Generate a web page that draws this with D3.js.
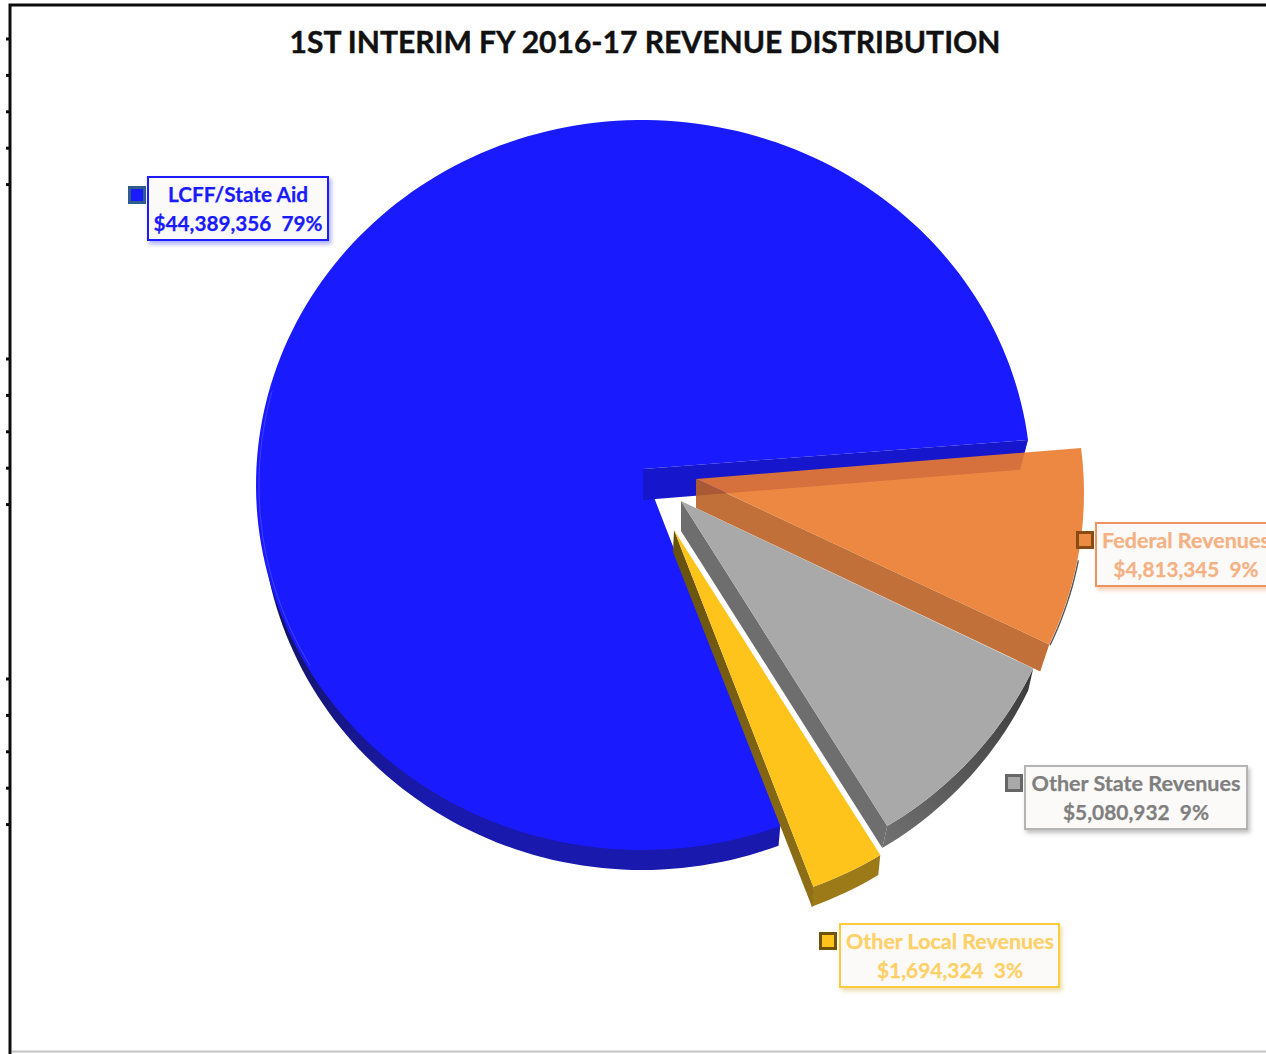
<!DOCTYPE html>
<html>
<head>
<meta charset="utf-8">
<script src="https://cdn.jsdelivr.net/npm/d3@7/dist/d3.min.js"></script>
<style>
html,body{margin:0;padding:0;background:#fff;overflow:hidden}
svg{display:block}
text{font-family:Lato,"Open Sans",sans-serif;font-weight:700}
</style>
</head>
<body>
<svg id="chart" width="1266" height="1054"></svg>
<script>
// Revenue figures
const title = "1ST INTERIM FY 2016-17 REVENUE DISTRIBUTION";
const categories = ["LCFF/State Aid", "Federal Revenues", "Other State Revenues", "Other Local Revenues"];
const revenues = [44389356, 4813345, 5080932, 1694324];

const W = 1266, H = 1054;
const svg = d3.select("#chart");
const defs = svg.append("defs");

// Tilted pie geometry: the disc is an ellipse, and its hub sits above the ellipse centre
const disc = {cx: 642, cy: 485, rx: 386, ry: 365};
const blueDisc = {...disc, rxRight: 389};
const base = {cx: 642, cy: 504, rx: 381, ry: 366};

// Slices run clockwise from the blue slice's lower edge
const pieStart = 158.5;
const pie = d3.pie().sort(null).value(d => d)
  .startAngle(pieStart * Math.PI / 180)
  .endAngle((pieStart + 360) * Math.PI / 180);
const arcs = pie(revenues);
const deg = r => r * 180 / Math.PI;

// Perspective foreshortens the sweep of the slices slightly
const sweep = d3.scaleLinear()
  .domain([pieStart, deg(arcs[0].endAngle), pieStart + 360])
  .range([159, 442.9, 519]);
const [blue, orange, gray, yellow] = arcs.map(d => ({from: sweep(deg(d.startAngle)), to: sweep(deg(d.endAngle))}));

const onEllipse = (e, a, shift = [0, 0]) => {
  const t = a * Math.PI / 180, s = Math.sin(t);
  const rx = s > 0 && e.rxRight ? e.rxRight : e.rx;
  return [e.cx + rx * s + shift[0], e.cy - e.ry * Math.cos(t) + shift[1]];
};
const rimPts = (e, a0, a1, shift) => {
  const n = Math.max(2, Math.ceil(Math.abs(a1 - a0) / 1.5));
  return d3.range(n + 1).map(i => onEllipse(e, a0 + (a1 - a0) * i / n, shift));
};
const line = d3.line();
const poly = pts => line(pts) + "Z";
const add = (g, d, fill, extra = {}) => {
  const p = g.append("path").attr("d", d).attr("fill", fill);
  Object.entries(extra).forEach(([k, v]) => p.attr(k, v));
  return p;
};
const gradient = (id, x1, y1, x2, y2, stops) => {
  const g = defs.append("linearGradient").attr("id", id)
    .attr("gradientUnits", "userSpaceOnUse")
    .attr("x1", x1).attr("y1", y1).attr("x2", x2).attr("y2", y2);
  stops.forEach(([o, c]) => g.append("stop").attr("offset", o).attr("stop-color", c));
};

// Frame with its stray tick marks on the left
const frame = svg.append("g");
frame.append("path").attr("d", `M10,${H}V5H${W}`).attr("fill", "none").attr("stroke", "#0c0c0c").attr("stroke-width", 3);
frame.append("path").attr("d", `M12,1051.5H${W}`).attr("stroke", "#c4c4c4").attr("stroke-width", 2);
[39, 359, 679].forEach(y0 => d3.range(5).forEach(i => {
  frame.append("rect").attr("x", 6).attr("y", y0 + i * 36.4 - 1.5).attr("width", 4).attr("height", 3).attr("fill", "#0c0c0c");
}));

svg.append("text").attr("x", 645).attr("y", 53).attr("text-anchor", "middle")
  .attr("font-size", 30).attr("textLength", 711).attr("lengthAdjust", "spacingAndGlyphs")
  .attr("fill", "#111").attr("stroke", "#111").attr("stroke-width", 0.4).text(title);

const pieG = svg.append("g");

// Pulled-out slices: hub position and disc offset
const hub = {blue: [643, 469], orange: [696, 479], gray: [681, 501], yellow: [674, 530]};
const pull = {orange: [56, 8], gray: [40, 32], yellow: [33, 61]};

// Blue slice
gradient("blueSide", 270, 620, 420, 800, [[0, "#141460"], [1, "#1919ad"]]);
add(pieG, poly([onEllipse(disc, blue.from), ...rimPts(base, blue.from, 270), [disc.cx, disc.cy]]), "url(#blueSide)");
add(pieG, poly([hub.blue, ...rimPts(blueDisc, blue.from, blue.to)]), "#1a1aff");
pieG.append("path").attr("d", line(rimPts({...disc, rx: 383, ry: 362}, 240, 285)))
  .attr("fill", "none").attr("stroke", "#4a4aff").attr("stroke-width", 1).attr("stroke-opacity", 0.8);

// Grey slice
gradient("graySide", 1030, 680, 880, 840, [[0, "#3c3c3c"], [1, "#707070"]]);
add(pieG, poly([...rimPts(disc, gray.from, gray.to, pull.gray), ...rimPts(disc, gray.to, gray.from, [pull.gray[0] - 5, pull.gray[1] + 22])]), "url(#graySide)");
{
  const end = onEllipse(disc, gray.to, pull.gray);
  add(pieG, poly([hub.gray, end, [end[0] - 5, end[1] + 22], [681, 531]]), "#6e6e6e");
  add(pieG, poly([hub.gray, ...rimPts(disc, gray.from, gray.to, pull.gray)]), "#a9a9a9");
}

// Yellow slice
gradient("yellowWall", 673, 530, 810, 900, [[0, "#65500f"], [1, "#8f7017"]]);
{
  const end = onEllipse(disc, yellow.to, pull.yellow);
  add(pieG, poly([...rimPts(disc, yellow.from, yellow.to, pull.yellow), ...rimPts(disc, yellow.to, yellow.from, [pull.yellow[0] - 2, pull.yellow[1] + 20])]), "#9c7a18");
  add(pieG, poly([hub.yellow, end, [end[0] - 1, end[1] + 21], [673, 552]]), "url(#yellowWall)");
  add(pieG, poly([hub.yellow, ...rimPts(disc, yellow.from, yellow.to, pull.yellow)]), "#ffc41c");
}

// Cut face of the blue slice, seen through the orange slice
{
  const tip = onEllipse(blueDisc, blue.to);
  add(pieG, poly([hub.blue, tip, [tip[0] - 8, tip[1] + 30], [643, 500]]), "#1616cc");
}

// Orange slice is slightly translucent; a thin dark rim shows along its lower edge
{
  const end = onEllipse(disc, orange.to, pull.orange);
  pieG.append("path").attr("d", line(rimPts(disc, orange.to - 14, orange.to, [pull.orange[0] + 0.8, pull.orange[1] + 0.8])))
    .attr("fill", "none").attr("stroke", "#555").attr("stroke-width", 1.4);
  add(pieG, poly([hub.orange, end, [end[0] - 9, end[1] + 27], [696, 508]]), "rgb(185,96,34)", {"fill-opacity": 0.9});
  add(pieG, poly([hub.orange, ...rimPts(disc, orange.from, orange.to, pull.orange)]), "rgb(235,123,47)", {"fill-opacity": 0.9});
}

// Callout boxes
const total = d3.sum(revenues);
const pct = d3.format(".0%");
const money = d3.format("$,");
const callouts = [
  {box: [148, 177, 180, 63], cx: 238, w: [140, 169], mark: [137, 195], text: "#1a1aff", border: "#1a1aff", mFill: "#1a1aff", mStroke: "#2f5c8f", shadow: "#1a1aff"},
  {box: [1096, 523, 200, 63], cx: 1186, w: [168, 145], mark: [1085, 540], text: "#f4b183", border: "#ee9462", mFill: "#ed8a44", mStroke: "#8a4a14", shadow: "#ed7d31"},
  {box: [1025, 766, 222, 63], cx: 1136, w: [209, 146], mark: [1014, 783], text: "#7f7f7f", border: "#b4b4b4", mFill: "#a9a9a9", mStroke: "#666", shadow: "#555"},
  {box: [840, 924, 219, 63], cx: 950, w: [208, 146], mark: [828, 941], text: "#ffd066", border: "#ffca3a", mFill: "#ffc41c", mStroke: "#6f5408", shadow: "#c9a227"}
];
callouts.forEach((c, i) => {
  const f = defs.append("filter").attr("id", "shadow" + i)
    .attr("x", "-10%").attr("y", "-20%").attr("width", "125%").attr("height", "150%");
  f.append("feDropShadow").attr("dx", 2).attr("dy", 3).attr("stdDeviation", 2.2)
    .attr("flood-color", c.shadow).attr("flood-opacity", 0.38);
  const g = svg.append("g");
  g.append("rect").attr("x", c.box[0]).attr("y", c.box[1]).attr("width", c.box[2]).attr("height", c.box[3])
    .attr("fill", "#fbfaf8").attr("stroke", c.border).attr("stroke-width", 2).attr("filter", `url(#shadow${i})`);
  [categories[i], `${money(revenues[i])}\u00a0\u00a0${pct(revenues[i] / total)}`].forEach((s, k) => {
    g.append("text").attr("x", c.cx).attr("y", c.box[1] + 24.5 + k * 29).attr("text-anchor", "middle")
      .attr("font-size", 21).attr("textLength", c.w[k]).attr("lengthAdjust", "spacingAndGlyphs")
      .attr("fill", c.text).attr("stroke", c.text).attr("stroke-width", 0.25).text(s);
  });
  g.append("rect").attr("x", c.mark[0] - 7.5).attr("y", c.mark[1] - 7.5).attr("width", 15).attr("height", 15)
    .attr("fill", c.mFill).attr("stroke", c.mStroke).attr("stroke-width", 3);
});
</script>
</body>
</html>
